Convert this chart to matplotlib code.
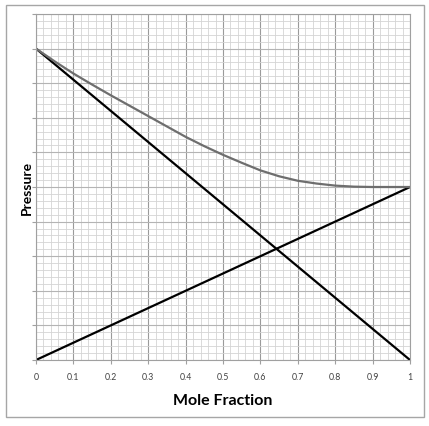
import numpy as np
import matplotlib
matplotlib.use("Agg")
import matplotlib.pyplot as plt
from matplotlib.patches import Rectangle

# mole fraction grid and the three pressure series (y axis units: major gridlines)
mole_frac = [0.0, 0.05, 0.1, 0.15, 0.2, 0.25, 0.3, 0.35, 0.4, 0.45, 0.5,
             0.55, 0.6, 0.65, 0.7, 0.75, 0.8, 0.85, 0.9, 0.95, 1.0]
total_p = [9.0, 8.63, 8.28, 7.96, 7.65, 7.35, 7.05, 6.75, 6.45, 6.18, 5.93,
           5.70, 5.48, 5.31, 5.18, 5.10, 5.04, 5.01, 5.0, 5.0, 5.0]
line_x = [0.0, 1.0]
p_falling = [9.0, 0.0]
p_rising = [0.0, 5.0]
xtick_vals = [0, 0.1, 0.2, 0.3, 0.4, 0.5, 0.6, 0.7, 0.8, 0.9, 1]
xtick_labels = ["0", "0.1", "0.2", "0.3", "0.4", "0.5", "0.6", "0.7", "0.8", "0.9", "1"]

plt.rcParams["font.family"] = ["Lato", "DejaVu Sans"]

fig = plt.figure(figsize=(4.29, 4.27), dpi=100)
fig.patch.set_facecolor("white")
fig.patches.append(Rectangle((6 / 429, 9 / 427), 418 / 429, 412 / 427,
                             transform=fig.transFigure, fill=False,
                             edgecolor="#a6a6a6", linewidth=1.0))

ax = fig.add_axes([36 / 429, 66 / 427, 374 / 429, 346 / 427])
ax.set_xlim(0, 1)
ax.set_ylim(0, 10)

ax.set_xticks(xtick_vals)
ax.set_xticklabels(xtick_labels, fontsize=6.3, color="#404040")
ax.set_xticks(np.arange(0, 1.0001, 0.02), minor=True)
ax.set_yticks(np.arange(0, 10.001, 1))
ax.set_yticklabels([])
ax.set_yticks(np.arange(0, 10.001, 0.2), minor=True)

ax.grid(which="major", axis="x", color="#9a9a9a", linewidth=0.8)
ax.grid(which="major", axis="y", color="#b4b4b4", linewidth=0.8)
ax.grid(which="minor", color="#d4d4d4", linewidth=0.6)
ax.set_axisbelow(True)
ax.tick_params(which="minor", length=0)
ax.tick_params(which="major", length=3, color="#a0a0a0", pad=6)
for s in ax.spines.values():
    s.set_color("#a0a0a0")
    s.set_linewidth(0.8)

ax.plot(line_x, p_falling, color="black", linewidth=1.6, solid_capstyle="round")
ax.plot(line_x, p_rising, color="black", linewidth=1.6, solid_capstyle="round")
ax.plot(mole_frac, total_p, color="#6e6e6e", linewidth=1.6)

ax.set_xlabel("Mole Fraction", fontsize=11.5, fontweight="bold", labelpad=8)
ax.set_ylabel("Pressure", fontsize=10, fontweight="bold")
ax.yaxis.set_label_coords(-3 / 374, 0.5)

fig.savefig("out.png", dpi=100)
